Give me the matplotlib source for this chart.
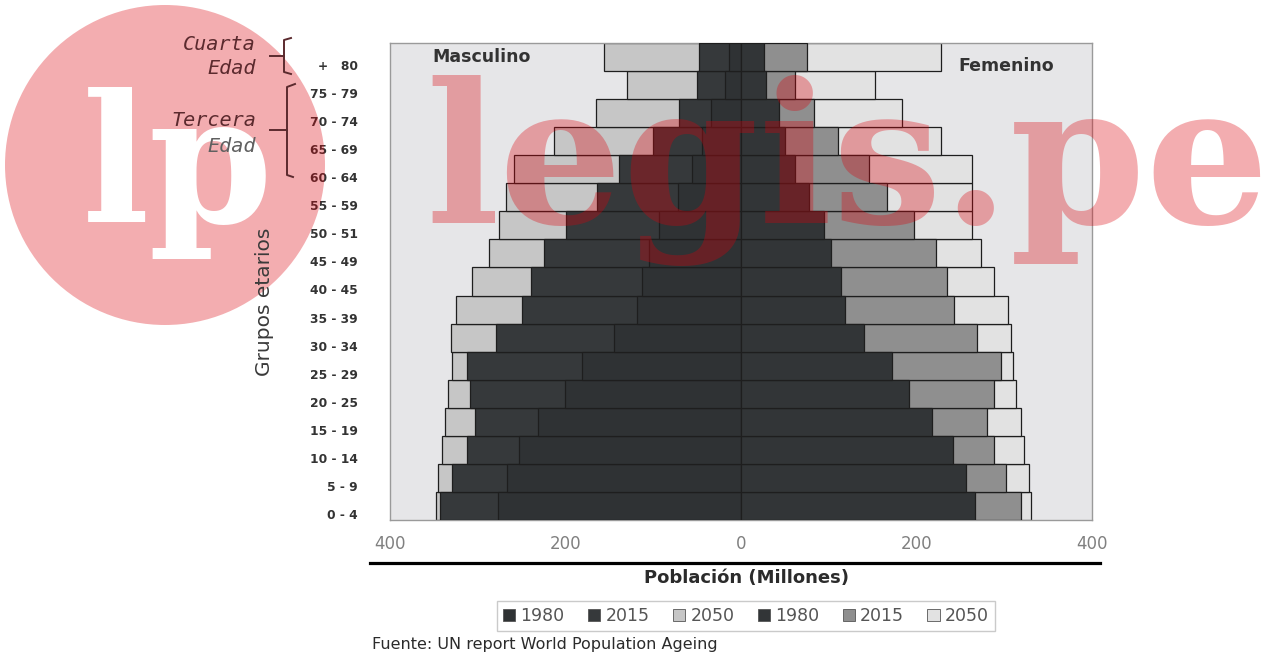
import matplotlib
matplotlib.use("Agg")
import matplotlib.pyplot as plt
from matplotlib.patches import Patch, Circle
from matplotlib.lines import Line2D
from matplotlib.ticker import FuncFormatter, FixedLocator
import matplotlib.transforms as mtransforms

# ---- data (millions), bottom (0-4) to top (80+) ----
age_groups = ["0 - 4", "5 - 9", "10 - 14", "15 - 19", "20 - 25", "25 - 29",
              "30 - 34", "35 - 39", "40 - 45", "45 - 49", "50 - 51", "55 - 59",
              "60 - 64", "65 - 69", "70 - 74", "75 - 79", "+   80"]
male_1980 = [277, 267, 253, 231, 201, 181, 145, 119, 113, 105, 93, 72, 56, 45, 34, 18, 14]
male_2015 = [343, 329, 312, 303, 309, 312, 279, 250, 239, 224, 200, 164, 139, 100, 71, 50, 48]
male_2050 = [348, 345, 341, 337, 334, 329, 331, 325, 306, 287, 276, 268, 259, 213, 165, 130, 156]
female_1980 = [267, 256, 242, 218, 191, 172, 140, 118, 114, 102, 95, 78, 62, 50, 43, 28, 26]
female_2015 = [319, 302, 288, 280, 288, 296, 269, 243, 235, 222, 197, 166, 146, 110, 83, 62, 75]
female_2050 = [331, 328, 323, 319, 313, 310, 308, 304, 288, 273, 263, 263, 263, 228, 184, 153, 228]
x_ticks = [-400, -200, 0, 200, 400]
legend_labels = ["1980", "2015", "2050", "1980", "2015", "2050"]

plt.rcParams['font.family'] = ['DejaVu Sans']

W, H = 1287, 655
fig = plt.figure(figsize=(W / 100, H / 100), dpi=100)
fig.patch.set_facecolor('white')

ax = fig.add_axes([390 / W, 1 - 520 / H, (1092 - 390) / W, (520 - 43) / H])
ax.set_facecolor('#e6e6e8')

y = list(range(len(age_groups)))
edge = '#1e1e1e'
c_m1980, c_m2015, c_m2050 = '#2f3234', '#36393b', '#c6c6c6'
c_f1980, c_f2015, c_f2050 = '#323537', '#8f8f8f', '#e2e2e2'

ax.barh(y, [-v for v in male_2050], height=1.0, color=c_m2050, edgecolor=edge, linewidth=0.9, zorder=2)
ax.barh(y, [-v for v in male_2015], height=1.0, color=c_m2015, edgecolor=edge, linewidth=0.9, zorder=3)
ax.barh(y, [-v for v in male_1980], height=1.0, color=c_m1980, edgecolor=edge, linewidth=0.9, zorder=4)
ax.barh(y, female_2050, height=1.0, color=c_f2050, edgecolor=edge, linewidth=0.9, zorder=2)
ax.barh(y, female_2015, height=1.0, color=c_f2015, edgecolor=edge, linewidth=0.9, zorder=3)
ax.barh(y, female_1980, height=1.0, color=c_f1980, edgecolor=edge, linewidth=0.9, zorder=4)

ax.set_xlim(-400, 400)
ax.set_ylim(-0.5, len(age_groups) - 0.5)
ax.xaxis.set_major_locator(FixedLocator(x_ticks))
ax.xaxis.set_major_formatter(FuncFormatter(lambda v, p: f"{abs(int(v))}"))
ax.set_yticks(y)
ax.set_yticklabels(age_groups, fontsize=8.8, fontweight='bold', color='#333333')
ax.tick_params(axis='x', length=0, pad=11, labelsize=12, labelcolor='#808080')
ax.tick_params(axis='y', length=0, pad=23)
off = mtransforms.ScaledTranslation(0, -0.08, fig.dpi_scale_trans)
for lab in ax.get_yticklabels():
    lab.set_transform(lab.get_transform() + off)
for s in ax.spines.values():
    s.set_color('#9a9a9a')
    s.set_linewidth(1.0)

ax.text(0.06, 0.971, "Masculino", transform=ax.transAxes, ha='left', va='center',
        fontsize=12.5, fontweight='bold', color='#333333', zorder=6)
ax.text(0.81, 0.951, "Femenino", transform=ax.transAxes, ha='left', va='center',
        fontsize=12.5, fontweight='bold', color='#333333', zorder=6)

# legend
handles = [Patch(facecolor=c, edgecolor='#555555', linewidth=0.6) for c in
           [c_m1980, c_m2015, c_m2050, c_f1980, c_f2015, c_f2050]]
leg = fig.legend(handles, legend_labels, ncol=6, loc='center',
                 bbox_to_anchor=(746 / W, 1 - 616 / H), frameon=True, fancybox=False,
                 handlelength=0.7, handleheight=0.7, handletextpad=0.3,
                 columnspacing=1.35, fontsize=12.5, borderpad=0.35)
leg.get_frame().set_edgecolor('#bdbdbd')
leg.get_frame().set_linewidth(1.0)
for t in leg.get_texts():
    t.set_color('#555555')

# overlay in pixel coordinates
ov = fig.add_axes([0, 0, 1, 1], zorder=10)
ov.set_xlim(0, W)
ov.set_ylim(H, 0)
ov.axis('off')
ov.patch.set_alpha(0)

ov.add_line(Line2D([370, 1100], [563, 563], color='black', lw=2.3))
ov.text(746, 578, "Población (Millones)", ha='center', va='center', fontsize=13,
        fontweight='bold', color='#2b2b2b')
ov.text(372, 645, "Fuente: UN report World Population Ageing", ha='left', va='center',
        fontsize=11.5, color='#2b2b2b')
ov.text(264, 302, "Grupos etarios", ha='center', va='center', rotation=90,
        fontsize=14.5, color='#3a3a3a')

hand = dict(fontsize=14.5, fontstyle='italic', family=['DejaVu Sans Mono', 'DejaVu Sans'])
maroon = '#5b2a2e'
ov.text(256, 45, "Cuarta", ha='right', va='center', color=maroon, **hand)
ov.text(256, 69, "Edad", ha='right', va='center', color=maroon, **hand)
ov.text(256, 120, "Tercera", ha='right', va='center', color=maroon, **hand)
ov.text(256, 147, "Edad", ha='right', va='center', color='#606060', **hand)
# braces
ov.plot([291, 284, 284, 291], [38, 40, 72, 74], color=maroon, lw=1.4)
ov.plot([270, 284], [56, 56], color=maroon, lw=1.4)
ov.plot([295, 287, 287, 293], [84, 87, 175, 177], color=maroon, lw=1.4)
ov.plot([270, 287], [130, 130], color=maroon, lw=1.4)

# watermark
wm_color = '#dc000a'
ov.add_patch(Circle((165, 165), 160, facecolor=wm_color, edgecolor='none', alpha=0.32, zorder=1))
ov.text(82, 222, "lp", ha='left', va='baseline', fontsize=128, fontweight='bold',
        family=['DejaVu Serif'], color='white', zorder=2)
ov.text(425, 223, "legis.pe", ha='left', va='baseline', fontsize=140, fontweight='bold',
        family=['DejaVu Serif'], color=wm_color, alpha=0.32, zorder=3)

fig.savefig("out.png", dpi=100, facecolor='white')
